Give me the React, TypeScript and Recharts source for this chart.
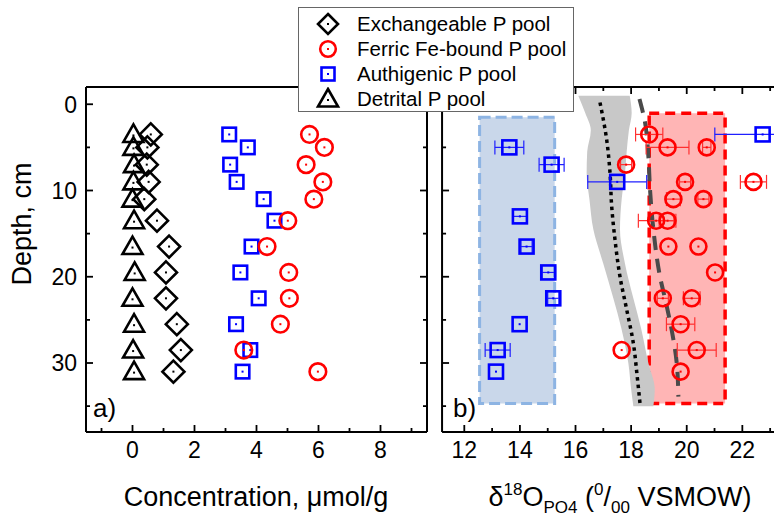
import React from "react";
import {
  ScatterChart,
  ComposedChart,
  Scatter,
  Line,
  Area,
  XAxis,
  YAxis,
  ReferenceArea,
  ErrorBar,
} from "recharts";

const FONT = '"Liberation Sans", Arial, sans-serif';

// panel a) concentrations, umol/g
const depths = [3.5, 5, 7, 9, 11, 13.5, 16.5, 19.5, 22.5, 25.5, 28.5, 31];
const exchangeable = [0.59, 0.48, 0.46, 0.52, 0.38, 0.79, 1.18, 1.08, 1.08, 1.43, 1.56, 1.32];
const ferric = [5.71, 6.19, 5.6, 6.14, 5.85, 5.01, 4.34, 5.04, 5.06, 4.77, 3.59, 5.98];
const authigenic = [3.12, 3.72, 3.15, 3.36, 4.23, 4.58, 3.84, 3.48, 4.07, 3.34, 3.8, 3.55];
const detrital = [0.03, 0.03, 0.05, 0.03, 0.0, 0.05, 0.0, 0.07, 0.0, 0.05, 0.02, 0.05];

// panel b) d18O of authigenic P
const authIsoDepths = [3.5, 5, 7, 9, 13, 16.5, 19.5, 22.5, 25.5, 28.5, 31];
const authIso = [22.73, 13.62, 15.14, 17.5, 14.0, 14.24, 15.02, 15.2, 13.99, 13.2, 13.14];
const authIsoErr = [1.72, 0.52, 0.45, 1.06, 0.25, 0.2, 0.22, 0.2, 0, 0.45, 0];

// panel b) d18O of ferric Fe-bound P
const feIsoDepths = [3.5, 5, 5, 7, 9, 9, 11, 11, 13.5, 13.5, 16.5, 16.5, 19.5, 22.5, 22.5, 25.5, 28.5, 28.5, 31];
const feIso = [18.65, 19.31, 20.72, 17.82, 19.94, 22.4, 19.52, 20.6, 18.9, 19.31, 19.34, 20.42, 21.02, 19.14, 20.18, 19.78, 17.66, 20.36, 19.78];
const feIsoErr = [0.49, 0.77, 0.15, 0.2, 0.2, 0.47, 0.25, 0.2, 0.64, 0.3, 0, 0, 0, 0.2, 0.3, 0.51, 0, 0.7, 0];

// equilibrium band and curves
const bandDepths = [-1, 1, 3, 5.5, 8, 11, 14.5, 18.5, 22.5, 26, 30, 33, 35];
const bandLow = [16.1, 16.35, 16.55, 16.42, 16.4, 16.5, 16.64, 17.0, 17.36, 17.65, 17.9, 18.0, 18.08];
const bandHigh = [17.95, 18.02, 17.92, 17.84, 17.78, 17.66, 17.6, 17.78, 18.08, 18.36, 18.62, 18.85, 18.8];
const dottedDepths = [-0.2, 4.1, 7.9, 11.8, 15.7, 20, 23.8, 27.7, 31.6, 34.7];
const dottedValues = [16.88, 17.12, 17.24, 17.3, 17.42, 17.6, 17.84, 18.08, 18.22, 18.32];
const dashedDepths = [-0.6, 2.1, 6, 9.9, 14.5, 20, 23.1, 26.2, 30, 33.9];
const dashedValues = [18.3, 18.5, 18.62, 18.68, 18.8, 19.04, 19.26, 19.46, 19.64, 19.7];

const concTicks = [-1, 0, 1, 2, 3, 4, 5, 6, 7, 8, 9];
const deltaTicks = [12, 13, 14, 15, 16, 17, 18, 19, 20, 21, 22, 23];
const depthTicks = [0, 5, 10, 15, 20, 25, 30, 35];

const concData = (vals: number[]) => depths.map((d, i) => ({ depth: d, value: vals[i] }));
const authIsoData = authIsoDepths.map((d, i) => ({ depth: d, value: authIso[i], err: authIsoErr[i] || null }));
const feIsoData = feIsoDepths.map((d, i) => ({ depth: d, value: feIso[i], err: feIsoErr[i] || null }));
const bandData = bandDepths.map((d, i) => ({ depth: d, band: [bandLow[i], bandHigh[i]] }));
const dottedData = dottedDepths.map((d, i) => ({ depth: d, v: dottedValues[i] }));
const dashedData = dashedDepths.map((d, i) => ({ depth: d, v: dashedValues[i] }));

const axisLine = { stroke: "#000", strokeWidth: 2 };

type Side = "bottom" | "top" | "left" | "right";

function makeTick(side: Side, step: number, withLabel: boolean) {
  return (props: any) => {
    const { x, y, payload } = props;
    const v = payload.value;
    const major = Math.abs(v % step) < 1e-6;
    const len = major ? 7 : 4;
    let l = { x1: x, y1: y, x2: x, y2: y };
    if (side === "bottom") l.y2 = y - len;
    if (side === "top") l.y2 = y + len;
    if (side === "left") l.x2 = x + len;
    if (side === "right") l.x2 = x - len;
    return (
      <g>
        <line {...l} stroke="#000" strokeWidth={1.8} />
        {withLabel && major && side === "bottom" && (
          <text x={x} y={y + 26} textAnchor="middle" fontSize={23} fontFamily={FONT} fill="#000">
            {v}
          </text>
        )}
        {withLabel && major && side === "left" && (
          <text x={x - 9} y={y} dy="0.36em" textAnchor="end" fontSize={23} fontFamily={FONT} fill="#000">
            {v}
          </text>
        )}
      </g>
    );
  };
}

const Dot = ({ cx, cy, c }: any) => <rect x={cx - 1} y={cy - 1} width={2} height={2} fill={c} />;

const Diamond = ({ cx, cy, s = 11 }: any) => (
  <g>
    <path d={`M${cx},${cy - s}L${cx + s},${cy}L${cx},${cy + s}L${cx - s},${cy}Z`} fill="none" stroke="#000" strokeWidth={2.6} />
    <Dot cx={cx} cy={cy} c="#000" />
  </g>
);
const Circle = ({ cx, cy, r = 8.3 }: any) => (
  <g>
    <circle cx={cx} cy={cy} r={r} fill="none" stroke="#ff0000" strokeWidth={2.6} />
    <Dot cx={cx} cy={cy} c="#ff0000" />
  </g>
);
const Square = ({ cx, cy, s = 13.5 }: any) => (
  <g>
    <rect x={cx - s / 2} y={cy - s / 2} width={s} height={s} fill="none" stroke="#0000ff" strokeWidth={2.6} />
    <Dot cx={cx} cy={cy} c="#0000ff" />
  </g>
);
const Triangle = ({ cx, cy }: any) => (
  <g>
    <path d={`M${cx},${cy - 10}L${cx + 10},${cy + 7.5}L${cx - 10},${cy + 7.5}Z`} fill="none" stroke="#000" strokeWidth={2.6} strokeLinejoin="miter" />
    <Dot cx={cx} cy={cy + 1} c="#000" />
  </g>
);

function LegendBox() {
  const rows = [
    { label: "Exchangeable P pool", icon: <Diamond cx={15} cy={12} s={10} /> },
    { label: "Ferric Fe-bound P pool", icon: <Circle cx={15} cy={12} r={7.8} /> },
    { label: "Authigenic P pool", icon: <Square cx={15} cy={12} s={13} /> },
    { label: "Detrital P pool", icon: <Triangle cx={15} cy={12} /> },
  ];
  return (
    <div
      style={{
        position: "absolute",
        left: 298,
        top: 7,
        width: 274,
        height: 103,
        border: "1px solid #666",
        background: "#fff",
        fontFamily: FONT,
        fontSize: 20.5,
        color: "#000",
      }}
    >
      {rows.map((r, i) => (
        <div key={r.label} style={{ position: "absolute", left: 0, top: 4 + i * 25, height: 24, lineHeight: "24px", whiteSpace: "nowrap" }}>
          <svg width={30} height={24} style={{ position: "absolute", left: 14, top: 0 }}>
            {r.icon}
          </svg>
          <span style={{ position: "absolute", left: 58, top: 0 }}>{r.label}</span>
        </div>
      ))}
    </div>
  );
}

export default function App() {
  return (
    <div style={{ position: "absolute", left: 0, top: 0, width: 774, height: 517, overflow: "hidden", background: "#fff" }}>
      <div style={{ position: "absolute", left: 0, top: 0 }}>
        <ScatterChart width={440} height={517} margin={{ top: 86, right: 12, bottom: 84, left: 85 }}>
          <XAxis type="number" dataKey="value" domain={[-1.5, 9.5]} ticks={concTicks} interval={0} height={1} tickSize={0} tickMargin={0} tickLine={false} axisLine={axisLine} tick={makeTick("bottom", 2, true)} allowDataOverflow />
          <XAxis xAxisId="top" orientation="top" type="number" domain={[-1.5, 9.5]} ticks={concTicks} interval={0} height={1} tickSize={0} tickMargin={0} tickLine={false} axisLine={axisLine} tick={makeTick("top", 2, false)} allowDataOverflow />
          <YAxis type="number" dataKey="depth" domain={[-2, 38]} reversed ticks={depthTicks} interval={0} width={1} tickSize={0} tickMargin={0} tickLine={false} axisLine={axisLine} tick={makeTick("left", 10, true)} allowDataOverflow />
          <YAxis yAxisId="right" orientation="right" type="number" domain={[-2, 38]} reversed ticks={depthTicks} interval={0} width={1} tickSize={0} tickMargin={0} tickLine={false} axisLine={axisLine} tick={makeTick("right", 10, false)} allowDataOverflow />
          <Scatter data={concData(detrital)} shape={(p: any) => <Triangle cx={p.cx} cy={p.cy} />} isAnimationActive={false} />
          <Scatter data={concData(exchangeable)} shape={(p: any) => <Diamond cx={p.cx} cy={p.cy} />} isAnimationActive={false} />
          <Scatter data={concData(authigenic)} shape={(p: any) => <Square cx={p.cx} cy={p.cy} />} isAnimationActive={false} />
          <Scatter data={concData(ferric)} shape={(p: any) => <Circle cx={p.cx} cy={p.cy} />} isAnimationActive={false} />
        </ScatterChart>
      </div>
      <div style={{ position: "absolute", left: 430, top: 0 }}>
        <ComposedChart layout="vertical" width={360} height={517} margin={{ top: 86, right: 13.3, bottom: 84, left: 11.06 }}>
          <XAxis type="number" dataKey="value" domain={[11.2, 23.2]} ticks={deltaTicks} interval={0} height={1} tickSize={0} tickMargin={0} tickLine={false} axisLine={axisLine} tick={makeTick("bottom", 2, true)} allowDataOverflow />
          <XAxis xAxisId="top" orientation="top" type="number" domain={[11.2, 23.2]} ticks={deltaTicks} interval={0} height={1} tickSize={0} tickMargin={0} tickLine={false} axisLine={axisLine} tick={makeTick("top", 2, false)} allowDataOverflow />
          <YAxis type="number" dataKey="depth" domain={[-2, 38]} ticks={depthTicks} interval={0} width={1} tickSize={0} tickMargin={0} tickLine={false} axisLine={axisLine} tick={makeTick("left", 10, false)} allowDataOverflow />
          <YAxis yAxisId="right" orientation="right" type="number" domain={[-2, 38]} ticks={depthTicks} interval={0} width={1} tickSize={0} tickMargin={0} tickLine={false} axisLine={axisLine} tick={makeTick("right", 10, false)} allowDataOverflow />
          <ReferenceArea x1={12.55} x2={15.25} y1={1.5} y2={34.7} fill="#c9d7ea" fillOpacity={1} stroke="#8db4e3" strokeWidth={3} strokeDasharray="11 5" />
          <ReferenceArea x1={18.65} x2={21.38} y1={1.05} y2={34.7} fill="#ffb5b5" fillOpacity={1} stroke="#ff0000" strokeWidth={3.5} strokeDasharray="10 6" />
          <Area data={bandData} dataKey="band" type="monotone" stroke="none" fill="#c8c8c8" fillOpacity={1} isAnimationActive={false} />
          <Line data={dottedData} dataKey="v" type="monotone" stroke="#000" strokeWidth={3.5} strokeDasharray="3.5 4" dot={false} isAnimationActive={false} />
          <Line data={dashedData} dataKey="v" type="monotone" stroke="#4a4a4a" strokeWidth={4} strokeDasharray="14 9" dot={false} isAnimationActive={false} />
          <Scatter data={authIsoData} shape={(p: any) => <Square cx={p.cx} cy={p.cy} s={14} />} isAnimationActive={false}>
            <ErrorBar dataKey="err" direction="x" width={7} stroke="#2020ff" strokeWidth={1.2} />
          </Scatter>
          <Scatter data={feIsoData} shape={(p: any) => <Circle cx={p.cx} cy={p.cy} r={8} />} isAnimationActive={false}>
            <ErrorBar dataKey="err" direction="x" width={7} stroke="#ff3030" strokeWidth={1.2} />
          </Scatter>
        </ComposedChart>
      </div>
      <svg width={774} height={517} style={{ position: "absolute", left: 0, top: 0, pointerEvents: "none" }} fontFamily={FONT}>
        <text transform="translate(31,224) rotate(-90)" textAnchor="middle" fontSize={27} fill="#000">
          Depth, cm
        </text>
        <text x={256} y={506} textAnchor="middle" fontSize={27} fill="#000">
          Concentration, μmol/g
        </text>
        <text x={620} y={506} textAnchor="middle" fontSize={27} fill="#000">
          δ<tspan fontSize={17} dy={-11}>18</tspan>
          <tspan dy={11}>O</tspan>
          <tspan fontSize={17} dy={7}>PO4</tspan>
          <tspan dy={-7}>{" ("}</tspan>
          <tspan fontSize={17} dy={-11}>0</tspan>
          <tspan dy={11}>/</tspan>
          <tspan fontSize={17} dy={7}>00</tspan>
          <tspan dy={-7}>{" VSMOW)"}</tspan>
        </text>
        <text x={93} y={417} fontSize={26} fill="#000">a)</text>
        <text x={453} y={417} fontSize={26} fill="#000">b)</text>
      </svg>
      <LegendBox />
    </div>
  );
}
